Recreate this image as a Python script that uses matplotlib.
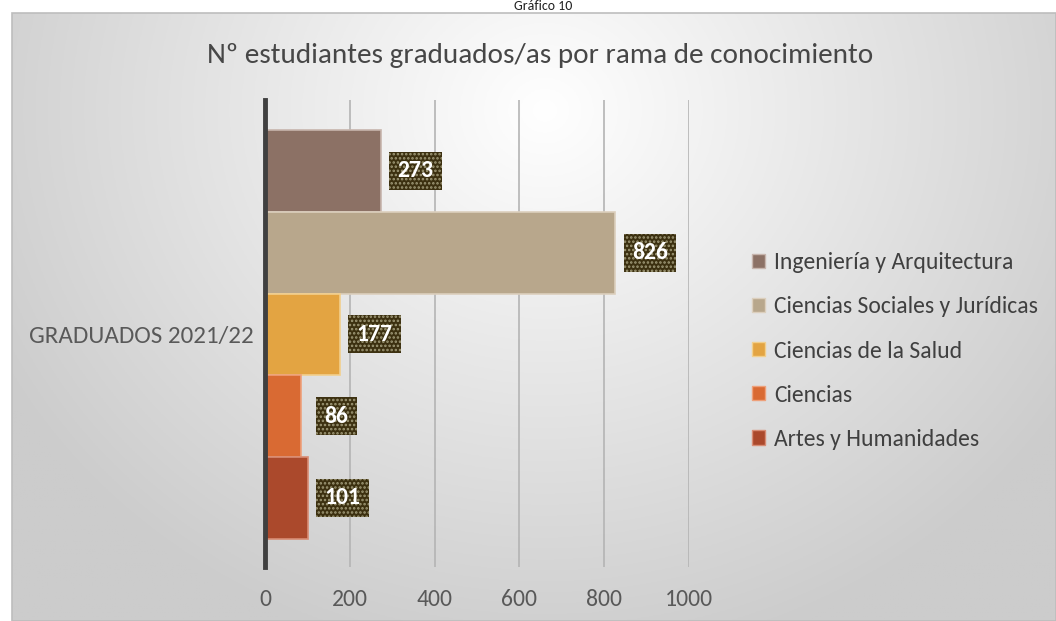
import numpy as np
import matplotlib
matplotlib.use("Agg")
import matplotlib.pyplot as plt
from matplotlib.patches import Patch, Rectangle

plt.rcParams['font.family'] = ['Carlito', 'Lato', 'DejaVu Sans']
plt.rcParams['hatch.linewidth'] = 1.2

categories = ['Ingeniería y Arquitectura', 'Ciencias Sociales y Jurídicas',
              'Ciencias de la Salud', 'Ciencias', 'Artes y Humanidades']
values = [273, 826, 177, 86, 101]
colors = ['#8c7165', '#b8a78c', '#e3a442', '#d96a33', '#ab492c']
edges = ['#c7b5ad', '#dccfbd', '#f2cf8c', '#eea07a', '#d88c74']
xticks = [0, 200, 400, 600, 800, 1000]
group_label = 'GRADUADOS 2021/22'
title = 'Nº estudiantes graduados/as por rama de conocimiento'

W, H = 1056, 621
fig = plt.figure(figsize=(W / 100, H / 100), dpi=100)
fig.patch.set_facecolor('white')

# background frame with radial gradient
bx0, by0 = 12, 13
bg = fig.add_axes([bx0 / W, 0, 1 - bx0 / W, (H - by0) / H], zorder=-5)
gx, gy = np.meshgrid(np.linspace(bx0, W, 400), np.linspace(by0, H, 300))
r = np.sqrt(((gx - 545) / 620) ** 2 + ((gy - 110) / 560) ** 2)
shade = 1 - 0.2 * np.clip(r, 0, 1)
bg.imshow(np.dstack([shade] * 3), extent=[0, 1, 0, 1], aspect='auto', origin='upper')
bg.set_xlim(0, 1)
bg.set_ylim(0, 1)
bg.axis('off')
fig.patches.append(Rectangle((bx0 / W, 0), 1 - bx0 / W, (H - by0) / H,
                             transform=fig.transFigure, fill=False,
                             ec='#bdbdbd', lw=1.2, zorder=10))

fig.text(543 / W, 1 - 0.5 / H, 'Gráfico 10', ha='center', va='top',
         fontsize=10, color='#222222')
fig.text(540 / W, 1 - 55 / H, title, ha='center', va='center',
         fontsize=21, color='#474747')

ax = fig.add_axes([265 / W, 1 - 567 / H, (689 - 265) / W, (567 - 100) / H])
ax.patch.set_alpha(0)

ypos = list(range(len(values) - 1, -1, -1))
ax.barh(ypos, values, height=1.0, color=colors, edgecolor=edges, linewidth=1.2, zorder=3)

for y, v in zip(ypos, values):
    ax.annotate(str(v), (v, y), xytext=(25, 0), textcoords='offset points',
                ha='center', va='center', fontsize=17, fontweight='bold',
                color='white', zorder=5,
                bbox=dict(boxstyle='square,pad=0.36', fc='#3c3010',
                          ec='#a09a78', lw=0, hatch='....'))

ax.set_xlim(0, 1000)
ax.set_ylim(-0.5 - 0.345, 4.5 + 0.367)
ax.set_xticks(xticks)
ax.set_xticklabels([str(t) for t in xticks])
ax.set_yticks([2])
ax.set_yticklabels([group_label])
ax.tick_params(axis='x', length=0, pad=16, labelsize=17, labelcolor='#595959')
ax.tick_params(axis='y', length=0, pad=8, labelsize=18, labelcolor='#595959')
ax.grid(axis='x', color='#b4b4b4', lw=1.2, zorder=1)
for s in ['top', 'right', 'bottom']:
    ax.spines[s].set_visible(False)
ax.spines['left'].set_color('#404040')
ax.spines['left'].set_linewidth(3.5)
ax.spines['left'].set_zorder(4)

handles = [Patch(fc=c, ec=e, lw=1) for c, e in zip(colors, edges)]
fig.legend(handles, categories, loc='center left',
           bbox_to_anchor=(752 / W, 1 - 351 / H), frameon=False,
           borderpad=0, borderaxespad=0,
           fontsize=17, labelcolor='#404040', handlelength=0.55,
           handleheight=0.55, handletextpad=0.4, labelspacing=0.98)

fig.savefig('out.png', dpi=100)
